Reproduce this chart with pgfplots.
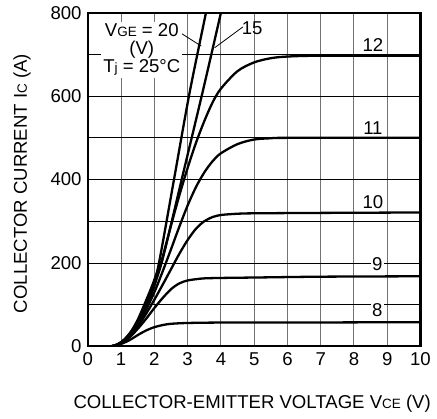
\documentclass[border=0pt]{standalone}
\usepackage{fontspec}
\setmainfont{Liberation Sans}
\usepackage{pgfplots}
\pgfplotsset{compat=1.18}
\newcommand{\sm}[1]{{\fontsize{13.5bp}{13.5bp}\selectfont #1}}
\begin{document}
\fontsize{18.6bp}{18bp}\selectfont
\begin{tikzpicture}
\begin{axis}[
  scale only axis, width=333bp, height=334bp,
  xmin=0, xmax=10, ymin=0, ymax=800,
  xtick={0,1,...,10}, ytick={0,200,...,800}, minor ytick={100,300,500,700},
  grid=both,
  x grid style={black!55, line width=1.1bp},
  y grid style={black, line width=0.8bp},
  minor y grid style={black, line width=0.8bp},
  major tick length=0pt, minor tick length=0pt,
  axis line style={line width=2.2bp},
  tick label style={font=\fontsize{18.6bp}{18bp}\selectfont},
  /pgf/number format/assume math mode=true,
  cycle list={{black, solid, mark=none}},
  every axis plot/.append style={line width=2.3bp, smooth, tension=0.5},
]
\addplot coordinates {(0.7,0)(0.9,3)(1.1,9)(1.3,17)(1.5,27)(1.75,38)(2,46)(2.25,51)(2.5,54)(3,56)(4,57)(6,57)(10,58)};
\addplot coordinates {(0.7,0)(0.9,4)(1.1,12)(1.3,25)(1.5,42)(1.75,66)(2,92)(2.25,116)(2.5,137)(2.75,151)(3,158)(3.25,161)(3.5,163)(4,164)(5,165)(7,167)(10,168)};
\addplot coordinates {(0.7,0)(0.9,4)(1.1,13)(1.3,28)(1.5,48)(1.75,78)(2,112)(2.25,148)(2.5,185)(2.75,222)(3,255)(3.25,282)(3.5,300)(3.75,310)(4,315)(4.5,318)(5,319)(7,320)(10,321)};
\addplot coordinates {(0.7,0)(0.9,4)(1.1,14)(1.3,30)(1.5,52)(1.75,88)(2,130)(2.25,180)(2.5,233)(2.75,287)(3,338)(3.25,382)(3.5,417)(3.75,444)(4,463)(4.5,485)(5,496)(5.5,499)(6,500)(10,500)};
\addplot coordinates {(0.7,0)(0.9,5)(1.1,15)(1.3,32)(1.5,56)(1.75,96)(2,145)(2.25,215)(2.5,290)(2.75,362)(3,428)(3.25,488)(3.5,540)(3.75,585)(4,618)(4.5,660)(5,681)(5.5,691)(6,695)(7,697)(10,697)};
\addplot coordinates {(0.7,0)(0.9,5)(1.1,16)(1.3,34)(1.5,60)(1.75,103)(2,150)(2.25,210)(2.85,410)(3.45,610)(4.0,800)(4.05,818)};
\addplot coordinates {(0.7,0)(0.9,5)(1.1,17)(1.3,36)(1.5,64)(1.75,110)(2,160)(2.15,205)(2.6,405)(3.05,605)(3.55,800)(3.6,822)};
\draw[line width=0.8bp] (axis cs:2.76,753) -- (axis cs:3.41,720);
\draw[line width=0.8bp] (axis cs:4.66,766) -- (axis cs:3.81,716);
\node[fill=white, inner sep=2bp, align=center] at (axis cs:1.62,711) {V\sm{GE} = 20\\(V)\\T\sm{j} = 25°C};
\node at (axis cs:4.94,762) {15};
\node at (axis cs:8.57,722) {12};
\node at (axis cs:8.57,524) {11};
\node at (axis cs:8.57,345) {10};
\node[fill=white, inner sep=1.5bp] at (axis cs:8.7,197) {9};
\node[fill=white, inner sep=1.5bp] at (axis cs:8.7,86) {8};
\end{axis}
\node[rotate=90, anchor=base] at ([xshift=-61bp, yshift=-4bp]current axis.west) {COLLECTOR CURRENT I\sm{C} (A)};
\node[anchor=base] at ([xshift=-2bp, yshift=-62bp]current axis.south) {COLLECTOR-EMITTER VOLTAGE V\sm{CE} (V)};
\path ([shift={(-88bp,-71bp)}]current axis.south west) rectangle ([shift={(16bp,10bp)}]current axis.north east);
\end{tikzpicture}
\end{document}
